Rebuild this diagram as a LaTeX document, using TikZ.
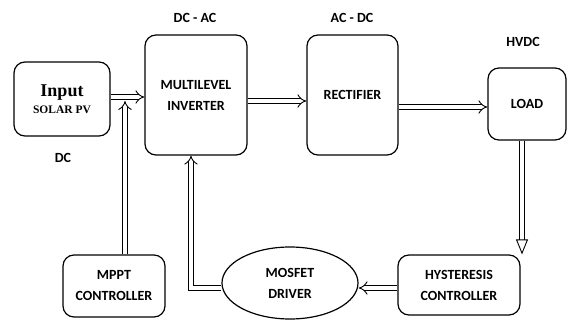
\documentclass[tikz,border=0pt]{standalone}
\usepackage{fontspec}
\setmainfont{Carlito}
\newfontfamily\tnr{Liberation Serif}
\usetikzlibrary{arrows.meta,shapes.geometric}
\begin{document}
\begin{tikzpicture}[x=1pt,y=-1pt,
  blk/.style={draw, line width=1.2pt, rounded corners=11pt, align=center, inner sep=0pt, font=\bfseries\fontsize{14}{16}\selectfont},
  lbl/.style={font=\bfseries\fontsize{14}{16}\selectfont, inner sep=0pt},
  dbl/.style={double, double distance=3.8pt, line width=0.9pt, -{Implies[]}},
  bigdbl/.style={double, double distance=3.8pt, line width=0.9pt, -{Triangle[open, length=15pt, width=12pt, line width=0.9pt]}}]
\useasboundingbox (0,0) rectangle (568,320);
% blocks
\node[blk, minimum width=96pt, minimum height=74pt] (inp) at (62,99)
  {{\tnr\fontsize{18}{20}\selectfont Input}\\[1pt]{\tnr\fontsize{11.5}{13}\selectfont SOLAR PV}};
\node[blk, minimum width=102pt, minimum height=120pt] (inv) at (196,95) {MULTILEVEL\\[5pt]INVERTER};
\node[blk, minimum width=91pt, minimum height=120pt] (rec) at (352.5,95) {RECTIFIER};
\node[blk, minimum width=78pt, minimum height=72pt] (load) at (527,104) {LOAD};
\node[blk, minimum width=122pt, minimum height=60pt] (hys) at (459,285) {HYSTERESIS\\[5pt]CONTROLLER};
\node[blk, minimum width=102pt, minimum height=62pt] (mppt) at (114,286) {MPPT\\[5pt]CONTROLLER};
\node[draw, line width=1.2pt, ellipse, minimum width=136pt, minimum height=72pt, align=center, inner sep=0pt,
  font=\bfseries\fontsize{14}{16}\selectfont] (mos) at (290,283) {MOSFET\\[5pt]DRIVER};
% labels
\node[lbl] (ldc) at (63,158) {DC};
\node[lbl] (ldcac) at (195,18) {DC - AC};
\node[lbl] (lacdc) at (352,18) {AC - DC};
\node[lbl] (lhv) at (523,42) {HVDC};
% helper coordinates
\coordinate (a1) at (0,97);
\coordinate (a2) at (125,101);
\coordinate (a3) at (0,101);
\coordinate (a4) at (0,107);
\coordinate (a5) at (522,0);
\coordinate (a6) at (0,288);
\coordinate (a7) at (191,288);
% connectors
\draw[dbl] (inp.east |- a1) -- (inv.west |- a1);
\draw[dbl] (mppt.north -| a2) -- (a2);
\draw[dbl] (inv.east |- a3) -- (rec.west |- a3);
\draw[dbl] (rec.east |- a4) -- (load.west |- a4);
\draw[bigdbl] (load.south -| a5) -- (hys.north -| a5);
\draw[dbl] (hys.west |- a6) -- (mos.east |- a6);
\draw[dbl] (mos.west |- a7) -- (a7) -- (inv.south -| a7);
\end{tikzpicture}
\end{document}
